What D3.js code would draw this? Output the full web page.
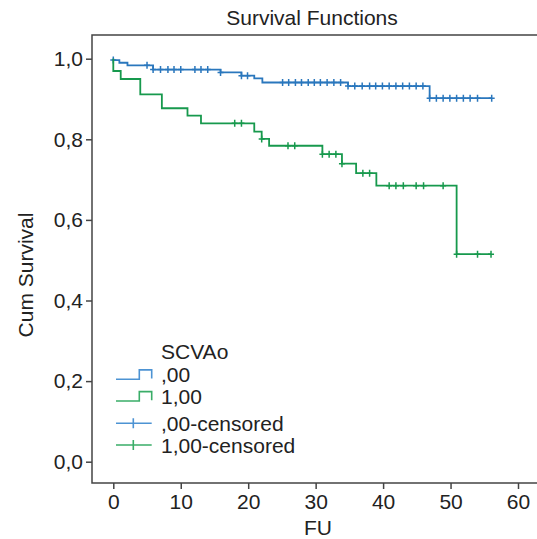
<!DOCTYPE html>
<html>
<head>
<meta charset="utf-8">
<script src="https://cdn.jsdelivr.net/npm/d3@7"></script>
<style>
  html, body { margin: 0; padding: 0; background: #fff; }
  svg { display: block; font-family: "Liberation Sans", Arial, Helvetica, sans-serif; }
</style>
</head>
<body>
<svg id="chart" width="537" height="539"></svg>
<script>
// Kaplan-Meier estimates by SCVAo group (follow-up in months)
const blueEventTimes = [0, 0.9, 2.1, 5.9, 15.9, 19.0, 20.9, 22.1, 34.8, 46.9];
const blueSurv       = [0.9965, 0.990, 0.9836, 0.973, 0.966, 0.958, 0.951, 0.941, 0.932, 0.902];
const blueCensored   = [0, 5.0, 5.9, 7.0, 8.1, 9.0, 10.0, 12.1, 13.0, 14.0, 15.9, 19.0, 19.9,
                        25.1, 26.0, 27.0, 27.9, 28.9, 29.8, 30.7, 31.7, 32.7, 33.7,
                        34.8, 35.8, 36.9, 38.0, 38.9, 39.9, 40.9, 41.9, 42.9, 43.9, 44.9, 45.9,
                        46.9, 47.9, 48.9, 49.9, 50.9, 51.9, 52.9, 54.0, 56.1];

const greenEventTimes = [0, 1.1, 4.0, 7.2, 11.0, 13.0, 20.9, 22.0, 23.1, 31.0, 33.9, 36.0, 39.0, 50.9];
const greenSurv       = [0.9695, 0.9496, 0.9117, 0.877, 0.8586, 0.8397, 0.819, 0.801, 0.784, 0.763, 0.7395, 0.716, 0.685, 0.515];
const greenCensored   = [18.0, 19.0, 22.0, 25.9, 26.9, 31.0, 32.0, 33.0, 33.9, 37.0, 38.0,
                         40.9, 41.9, 43.0, 44.9, 46.0, 48.9, 50.9, 54.0, 56.0];

const xTicks = [0, 10, 20, 30, 40, 50, 60];
const yTicks = [0, 0.2, 0.4, 0.6, 0.8, 1.0];
const legendLabels = [",00", "1,00", ",00-censored", "1,00-censored"];

const BLUE = "#2a77bd", GREEN = "#17994d";
const BLUE_L = "#4d93d3", GREEN_L = "#3aad68";
const AXIS = "#444", TEXT = "#222";
const FS = 21;

const svg = d3.select("#chart");
const x = d3.scaleLinear().domain([0, 60]).range([113.3, 518.0]);
const y = d3.scaleLinear().domain([0, 1]).range([461.7, 58.7]);

const frame = { left: 92, top: 35, right: 537, bottom: 483 };

// Title
svg.append("text")
  .attr("x", 312).attr("y", 25)
  .attr("text-anchor", "middle")
  .attr("font-size", FS).attr("fill", TEXT)
  .text("Survival Functions");

// Plot frame (left, top, bottom)
svg.append("path")
  .attr("d", `M${frame.right},${frame.top}H${frame.left}V${frame.bottom}H${frame.right}`)
  .attr("fill", "none").attr("stroke", AXIS).attr("stroke-width", 1.5);

// Axes
const fmtY = d => d3.format(".1f")(d).replace(".", ",");
const yAxis = svg.append("g")
  .attr("transform", `translate(${frame.left},0)`)
  .call(d3.axisLeft(y).tickValues(yTicks).tickFormat(fmtY).tickSize(6).tickPadding(3));
const xAxis = svg.append("g")
  .attr("transform", `translate(0,${frame.bottom})`)
  .call(d3.axisBottom(x).tickValues(xTicks).tickFormat(d3.format("d")).tickSize(6).tickPadding(5));
[xAxis, yAxis].forEach(g => {
  g.select(".domain").remove();
  g.selectAll(".tick line").attr("stroke", AXIS).attr("stroke-width", 1.5);
  g.selectAll(".tick text").attr("fill", TEXT).attr("font-size", FS)
    .attr("font-family", "Liberation Sans, Arial, sans-serif");
});

// Axis titles
svg.append("text")
  .attr("x", 318).attr("y", 535)
  .attr("text-anchor", "middle").attr("font-size", FS).attr("fill", TEXT)
  .text("FU");
svg.append("text")
  .attr("transform", "translate(33,275) rotate(-90)")
  .attr("text-anchor", "middle").attr("font-size", FS).attr("fill", TEXT)
  .text("Cum Survival");

// Survival step functions
function survAt(times, surv, t) {
  let s = 1;
  times.forEach((et, i) => { if (et <= t) s = surv[i]; });
  return s;
}
function curvePoints(times, surv, tEnd) {
  const pts = [[0, 1]];
  times.forEach((t, i) => pts.push([t, surv[i]]));
  pts.push([tEnd, surv[surv.length - 1]]);
  return pts;
}
const stepLine = d3.line().x(d => x(d[0])).y(d => y(d[1])).curve(d3.curveStepAfter);

const groups = [
  { times: blueEventTimes, surv: blueSurv, cens: blueCensored, color: BLUE },
  { times: greenEventTimes, surv: greenSurv, cens: greenCensored, color: GREEN }
];

groups.forEach(g => {
  const tEnd = d3.max(g.cens);
  svg.append("path")
    .attr("d", stepLine(curvePoints(g.times, g.surv, tEnd)))
    .attr("fill", "none").attr("stroke", g.color).attr("stroke-width", 1.8);

  // censoring marks
  svg.append("g").selectAll("path")
    .data(g.cens)
    .join("path")
    .attr("d", t => {
      const cx = x(t), cy = y(survAt(g.times, g.surv, t));
      return `M${cx - 3},${cy}H${cx + 3}M${cx},${cy - 3.5}V${cy + 3.5}`;
    })
    .attr("stroke", g.color).attr("stroke-width", 1.5).attr("fill", "none");
});

// Legend
const lg = svg.append("g").attr("font-size", FS).attr("fill", TEXT);
lg.append("text").attr("x", 161).attr("y", 358.5).text("SCVAo");

const legendRows = [
  { label: legendLabels[0], cy: 374.6, color: BLUE_L, kind: "step" },
  { label: legendLabels[1], cy: 396.3, color: GREEN_L, kind: "step" },
  { label: legendLabels[2], cy: 423.3, color: BLUE_L, kind: "cens" },
  { label: legendLabels[3], cy: 445.0, color: GREEN_L, kind: "cens" }
];
legendRows.forEach(r => {
  let d;
  if (r.kind === "step") {
    d = `M116,${r.cy + 4.7}H139.3V${r.cy - 4.7}H151.7V${r.cy + 4}`;
  } else {
    d = `M116,${r.cy}H151.7M133.3,${r.cy - 5}V${r.cy + 5}`;
  }
  lg.append("path").attr("d", d).attr("fill", "none")
    .attr("stroke", r.color).attr("stroke-width", 1.6);
  lg.append("text").attr("x", 161).attr("y", r.cy + 7.5).text(r.label);
});
</script>
</body>
</html>
